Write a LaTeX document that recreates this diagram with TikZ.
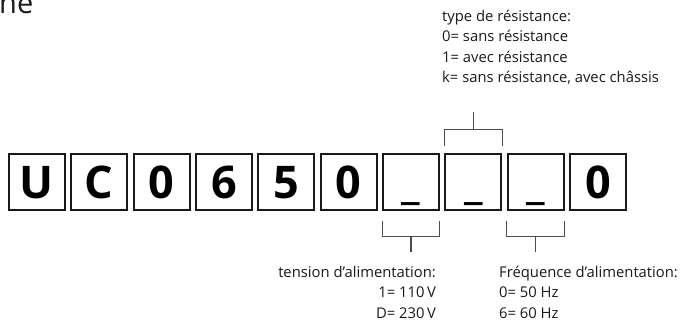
\documentclass[tikz,border=0pt]{standalone}
\usepackage{fontspec}
\setmainfont{Open Sans}
\usetikzlibrary{positioning}
\tikzset{
      codebox/.style={
        draw=black!90,
        line width=1.8pt,
        minimum size=56pt,
        inner sep=0pt,
        text height=33pt,
        text depth=0pt,
        font=\fontsize{45}{45}\selectfont\bfseries
      },
      bracket/.style={
        draw=black!70,
        line width=1.1pt
      },
      legend/.style={
        inner sep=0pt,
        text=black!90,
        font=\fontsize{14.8}{20.3}\selectfont
      }
    }

\begin{document}
\begin{tikzpicture}[x=1pt,y=-1pt]
    \useasboundingbox (0,0) rectangle (688,327);
    \node[anchor=base west, inner sep=0pt, text=black!90, font=\fontsize{29}{29}\selectfont] (title) at (-1,13) {ne};
    \foreach \c [count=\i] in {U,C,0,6,5,0,\_,\_,\_,0}
      \node[codebox] (c\i) at ({37+(\i-1)*62.33},182) {\c};
    \node[legend, align=left, anchor=north west] (resist) at (442,10) {type de résistance:\\0= sans résistance\\1= avec résistance\\k= sans résistance, avec châssis};
    \node[legend, align=right, anchor=north east] (volt) at (436,266) {tension d’alimentation:\\1= 110\,V\\D= 230\,V};
    \node[legend, align=left, anchor=north west] (freq) at (499,266) {Fréquence d’alimentation:\\0= 50 Hz\\6= 60 Hz};
    \coordinate (rtop) at ([yshift=41pt]c8.north);
    \coordinate (vbot) at ([yshift=-41pt]c7.south);
    \coordinate (fbot) at ([yshift=-41pt]c9.south);
    \draw[bracket] ([yshift=7pt]c8.north west) -- ++(0,-17) -| ([yshift=7pt]c8.north east);
    \draw[bracket] ([yshift=24pt]c8.north) -- (rtop);
    \draw[bracket] ([yshift=-10pt]c7.south west) -- ++(0,16) -| ([yshift=-10pt]c7.south east);
    \draw[bracket] ([yshift=-26pt]c7.south) -- (vbot);
    \draw[bracket] ([yshift=-10pt]c9.south west) -- ++(0,16) -| ([yshift=-10pt]c9.south east);
    \draw[bracket] ([yshift=-26pt]c9.south) -- (fbot);
\end{tikzpicture}
\end{document}
